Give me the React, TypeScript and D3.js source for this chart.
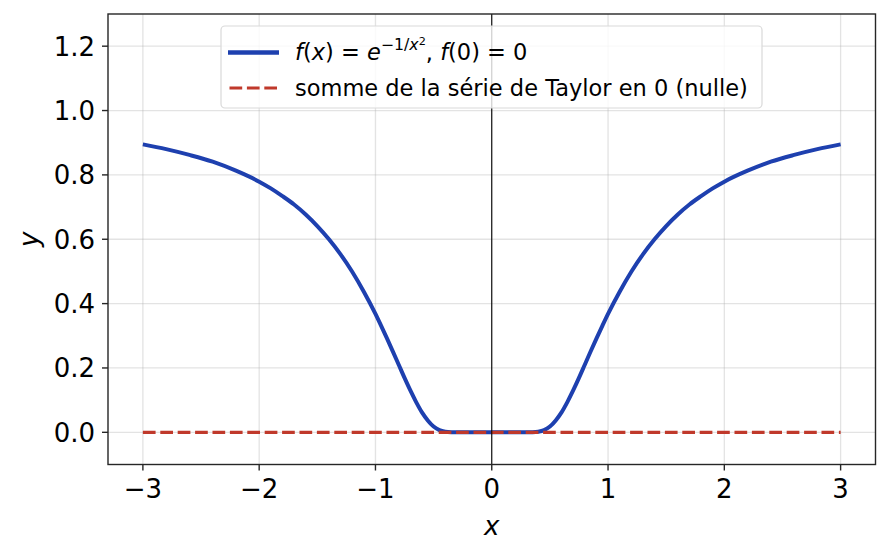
import React from "react";
import * as d3 from "d3";

const xValues = [
  -3.0, -2.8, -2.6, -2.4, -2.2, -2.0, -1.9, -1.8, -1.7, -1.6, -1.5, -1.4, -1.3, -1.2, -1.1, -1.0,
  -0.95, -0.9, -0.85, -0.8, -0.75, -0.7, -0.65, -0.6, -0.55, -0.5, -0.45, -0.4, -0.35, -0.3, -0.2, -0.1,
  0.0,
  0.1, 0.2, 0.3, 0.35, 0.4, 0.45, 0.5, 0.55, 0.6, 0.65, 0.7, 0.75, 0.8, 0.85, 0.9, 0.95,
  1.0, 1.1, 1.2, 1.3, 1.4, 1.5, 1.6, 1.7, 1.8, 1.9, 2.0, 2.2, 2.4, 2.6, 2.8, 3.0,
];
const fValues = [
  0.895, 0.880, 0.862, 0.841, 0.813, 0.779, 0.758, 0.734, 0.708, 0.677, 0.641, 0.600, 0.553, 0.499, 0.437, 0.368,
  0.330, 0.291, 0.251, 0.210, 0.169, 0.130, 0.094, 0.062, 0.037, 0.018, 0.007, 0.002, 0.0003, 0.0, 0.0, 0.0,
  0.0,
  0.0, 0.0, 0.0, 0.0003, 0.002, 0.007, 0.018, 0.037, 0.062, 0.094, 0.130, 0.169, 0.210, 0.251, 0.291, 0.330,
  0.368, 0.437, 0.499, 0.553, 0.600, 0.641, 0.677, 0.708, 0.734, 0.758, 0.779, 0.813, 0.841, 0.862, 0.880, 0.895,
];
const taylorX = [-3.0, 3.0];
const taylorY = [0.0, 0.0];
const xTicks = [-3, -2, -1, 0, 1, 2, 3];
const yTicks = [0.0, 0.2, 0.4, 0.6, 0.8, 1.0, 1.2];
const xDomain = [-3.3, 3.3];
const yDomain = [-0.1, 1.3];
const legendTaylor = "somme de la série de Taylor en 0 (nulle)";

const W = 890;
const H = 557;
const L = 108;
const R = 875.5;
const T = 14;
const B = 464.5;
const BLUE = "#1e40af";
const RED = "#c0392b";
const FONT = "DejaVu Sans";

export default function App() {
  const x = d3.scaleLinear().domain(xDomain).range([L, R]);
  const y = d3.scaleLinear().domain(yDomain).range([B, T]);
  const pts: [number, number][] = xValues.map((v, i) => [v, fValues[i]]);
  const line = d3
    .line<[number, number]>()
    .x((d) => x(d[0]))
    .y((d) => y(d[1]))
    .curve(d3.curveMonotoneX);
  const tPts: [number, number][] = taylorX.map((v, i) => [v, taylorY[i]]);
  const tLine = d3
    .line<[number, number]>()
    .x((d) => x(d[0]))
    .y((d) => y(d[1]));

  const tickFs = 26;
  const legFs = 22.5;

  return (
    <svg
      width={W}
      height={H}
      style={{ position: "absolute", left: 0, top: 0, background: "#fff" }}
      fontFamily={FONT}
    >
      <rect width={W} height={H} fill="#fff" />
      <defs>
        <clipPath id="plot">
          <rect x={L} y={T} width={R - L} height={B - T} />
        </clipPath>
      </defs>
      {xTicks.map((t) => (
        <line key={"gx" + t} x1={x(t)} x2={x(t)} y1={T} y2={B} stroke="#b0b0b0" strokeOpacity={0.35} strokeWidth={1.3} />
      ))}
      {yTicks.map((t) => (
        <line key={"gy" + t} x1={L} x2={R} y1={y(t)} y2={y(t)} stroke="#b0b0b0" strokeOpacity={0.35} strokeWidth={1.3} />
      ))}
      <g clipPath="url(#plot)">
        <path d={line(pts) || ""} fill="none" stroke={BLUE} strokeWidth={4} strokeLinejoin="round" />
        <path d={tLine(tPts) || ""} fill="none" stroke={RED} strokeWidth={3.2} strokeDasharray="12.7 4.7" />
        <line x1={x(0)} x2={x(0)} y1={T} y2={B} stroke="#000" strokeWidth={1.1} />
      </g>
      <rect x={L} y={T} width={R - L} height={B - T} fill="none" stroke="#262626" strokeWidth={1.4} />
      {xTicks.map((t) => (
        <g key={"xt" + t}>
          <line x1={x(t)} x2={x(t)} y1={B} y2={B + 6} stroke="#262626" strokeWidth={1.4} />
          <text x={x(t)} y={B + 33} textAnchor="middle" fontSize={tickFs} fill="#000">
            {t < 0 ? "\u2212" + Math.abs(t) : String(t)}
          </text>
        </g>
      ))}
      {yTicks.map((t) => (
        <g key={"yt" + t}>
          <line x1={L - 6} x2={L} y1={y(t)} y2={y(t)} stroke="#262626" strokeWidth={1.4} />
          <text x={L - 13} y={y(t) + 9.5} textAnchor="end" fontSize={tickFs} fill="#000">
            {t.toFixed(1)}
          </text>
        </g>
      ))}
      <text x={x(0)} y={535} textAnchor="middle" fontSize={tickFs} fontStyle="italic">x</text>
      <text transform={`translate(38, ${(T + B) / 2}) rotate(-90)`} textAnchor="middle" fontSize={tickFs} fontStyle="italic">y</text>
      <g>
        <rect x={221} y={26} width={541} height={82} rx={4} fill="#fff" fillOpacity={0.8} stroke="#d9d9d9" strokeWidth={1.2} />
        <line x1={228} x2={279} y1={52.5} y2={52.5} stroke={BLUE} strokeWidth={4.5} />
        <line x1={229.5} x2={279} y1={88} y2={88} stroke={RED} strokeWidth={3.2} strokeDasharray="12.7 4.7" />
        <text x={295} y={60} fontSize={legFs} fill="#000">
          <tspan fontStyle="italic">f</tspan>
          <tspan>(</tspan>
          <tspan fontStyle="italic">x</tspan>
          <tspan>) = </tspan>
          <tspan fontStyle="italic">e</tspan>
          <tspan fontSize={legFs * 0.7} dy={-10}>{"\u22121/"}</tspan>
          <tspan fontSize={legFs * 0.7} fontStyle="italic">x</tspan>
          <tspan fontSize={legFs * 0.5} dy={-5}>2</tspan>
          <tspan dy={15}>, </tspan>
          <tspan fontStyle="italic">f</tspan>
          <tspan>(0) = 0</tspan>
        </text>
        <text x={295} y={96} fontSize={legFs} fill="#000">{legendTaylor}</text>
      </g>
    </svg>
  );
}
